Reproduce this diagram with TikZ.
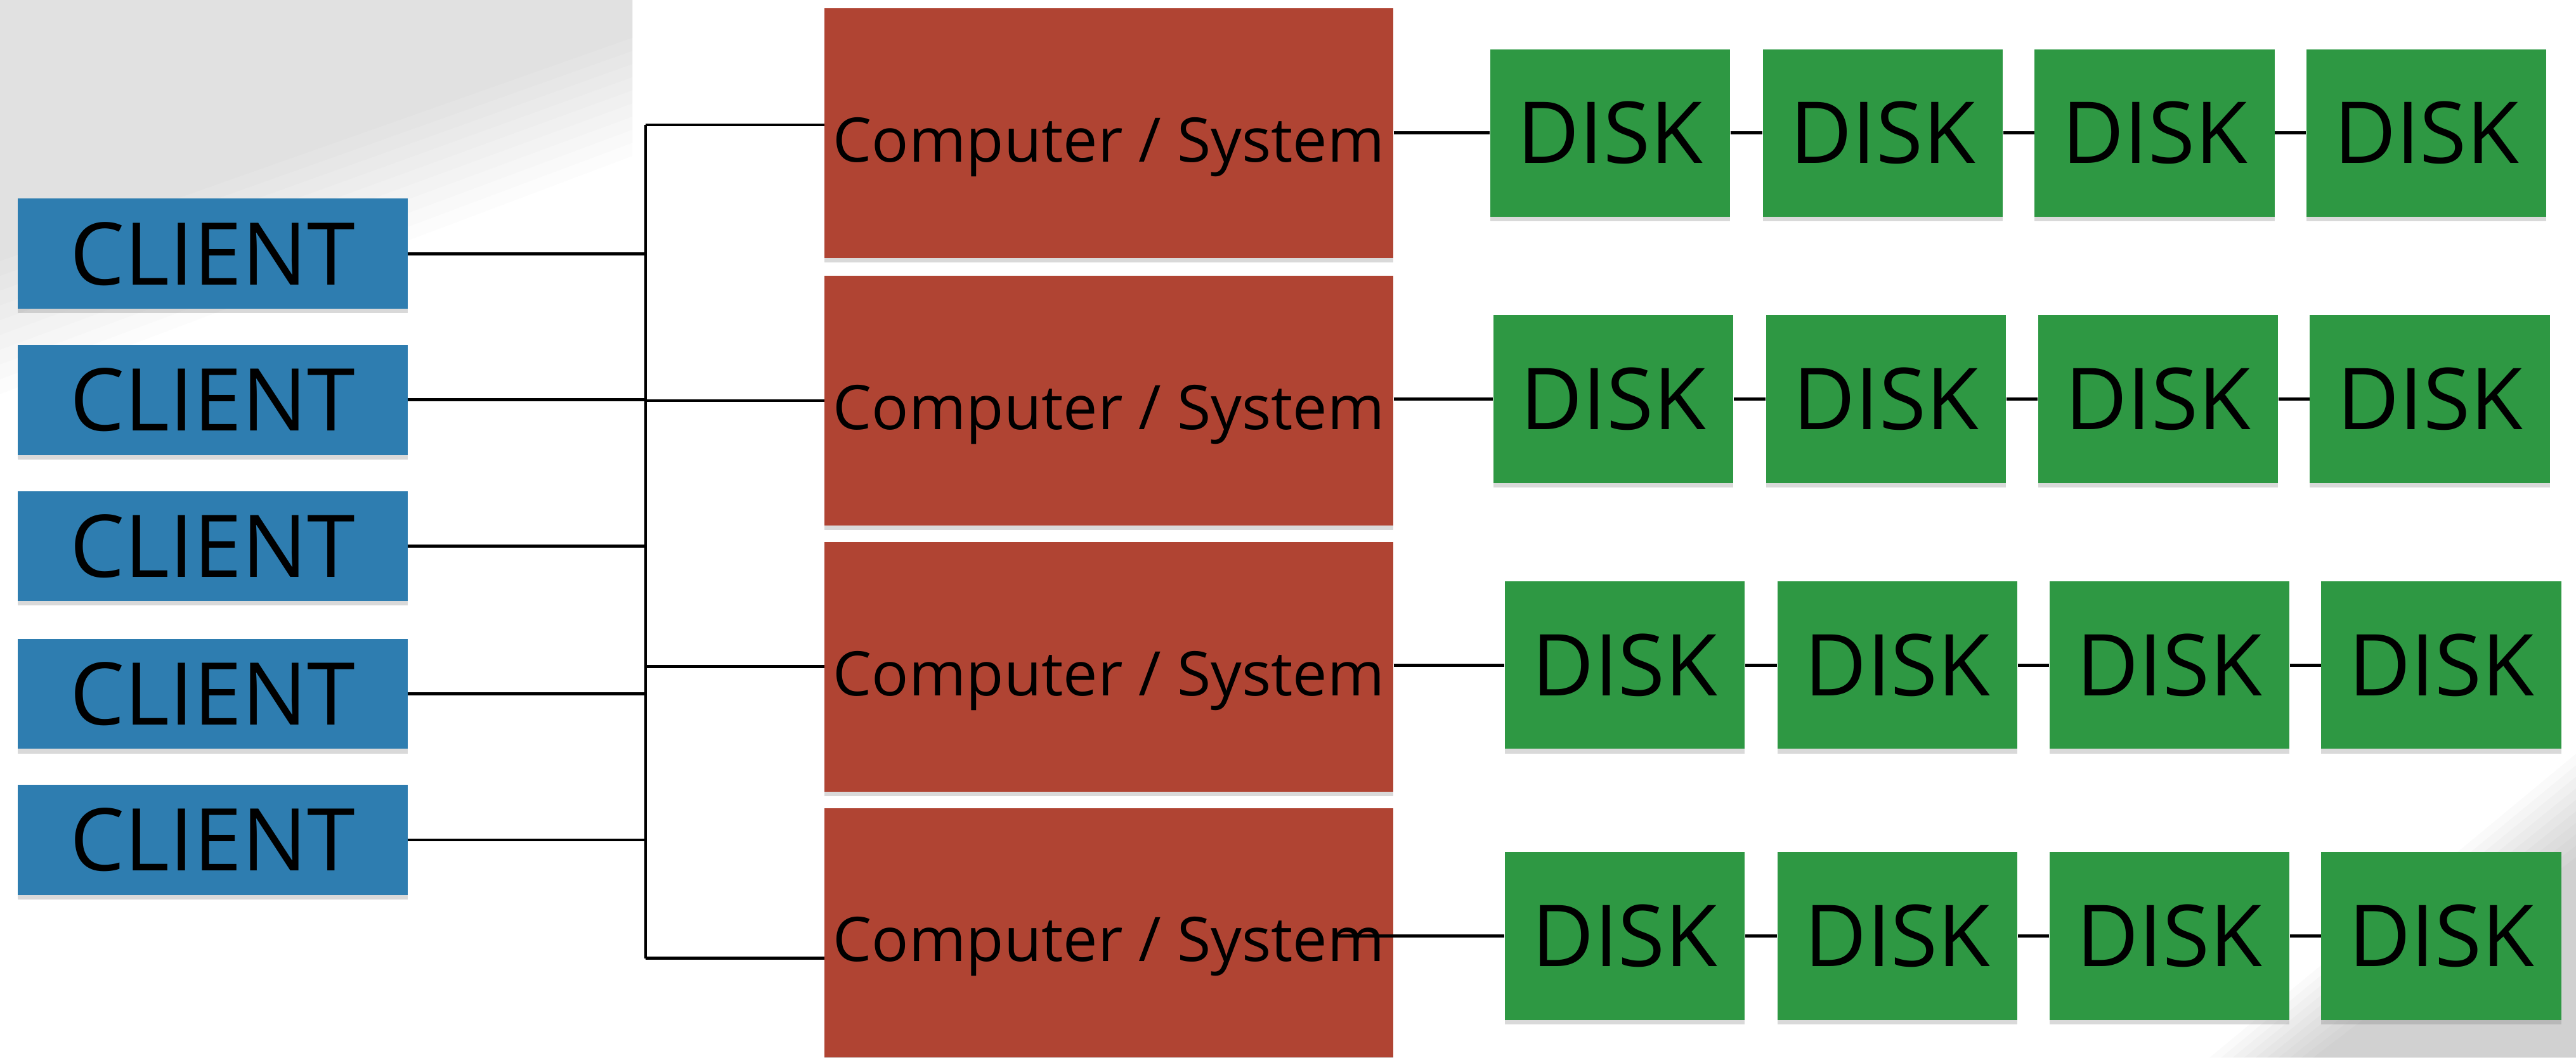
\documentclass[tikz,border=0pt]{standalone}
\usepackage{fontspec}
\setmainfont{Open Sans}
\usetikzlibrary{shadows}

\definecolor{clientblue}{RGB}{46,125,176}
\definecolor{systemred}{RGB}{176,68,51}
\definecolor{diskgreen}{RGB}{46,152,67}

\begin{document}
\begin{tikzpicture}[x=0.025cm,y=-0.025cm]

\tikzset{box/.style={rectangle,inner sep=0pt,
  drop shadow={shadow xshift=0pt,shadow yshift=-2pt,opacity=0.3}}}

\tikzset{client/.style={box,fill=clientblue,minimum width=5.925cm,
  minimum height=1.675cm,font=\fontsize{37.5}{40}\selectfont}}

\tikzset{system/.style={box,fill=systemred,minimum width=8.65cm,
  minimum height=3.8cm,font=\fontsize{26.6}{30}\selectfont,
  text height=25.5pt,text depth=0.5pt}}

\tikzset{disk/.style={box,fill=diskgreen,minimum width=3.65cm,
  minimum height=2.55cm,font=\fontsize{37}{40}\selectfont}}

\tikzset{link/.style={line width=1.3pt}}

\useasboundingbox (0,0) rectangle (1568,644);

%paper shadows
\foreach \k in {0,...,9}
  \fill[black,opacity=0.013] (0,0) -- (385,0) -- (385,{95-8*\k}) -- (0,{240-9*\k}) -- cycle;
\foreach \k in {0,...,9}
  \fill[black,opacity=0.018] ({1345+7*\k},644) -- (1568,{459+7*\k}) -- (1568,644) -- cycle;

%clients
\node[client] (cl1) at (129.5,154.5) {CLIENT};
\node[client] (cl2) at (129.5,243.5) {CLIENT};
\node[client] (cl3) at (129.5,332.5) {CLIENT};
\node[client] (cl4) at (129.5,422.5) {CLIENT};
\node[client] (cl5) at (129.5,511.5) {CLIENT};

%computers
\node[system] (cs1) at (675,81) {Computer / System};
\node[system] (cs2) at (675,244) {Computer / System};
\node[system] (cs3) at (675,406) {Computer / System};
\node[system] (cs4) at (675,568) {Computer / System};

%disks row 1
\node[disk] (d11) at (980,81) {DISK};
\node[disk] (d12) at (1146,81) {DISK};
\node[disk] (d13) at (1311.5,81) {DISK};
\node[disk] (d14) at (1477,81) {DISK};

%disks row 2
\node[disk] (d21) at (982,243) {DISK};
\node[disk] (d22) at (1148,243) {DISK};
\node[disk] (d23) at (1313.5,243) {DISK};
\node[disk] (d24) at (1479,243) {DISK};

%disks row 3
\node[disk] (d31) at (989,405) {DISK};
\node[disk] (d32) at (1155,405) {DISK};
\node[disk] (d33) at (1320.5,405) {DISK};
\node[disk] (d34) at (1486,405) {DISK};

%disks row 4
\node[disk] (d41) at (989,570) {DISK};
\node[disk] (d42) at (1155,570) {DISK};
\node[disk] (d43) at (1320.5,570) {DISK};
\node[disk] (d44) at (1486,570) {DISK};

%bus
\coordinate (bustop) at (393,76);
\coordinate (busbot) at (393,583.6);
\draw[link] (bustop) -- (busbot);

%clients to bus
\draw[link] (cl1.east) -- (cl1.east -| bustop);
\draw[link] (cl2.east) -- (cl2.east -| bustop);
\draw[link] (cl3.east) -- (cl3.east -| bustop);
\draw[link] (cl4.east) -- (cl4.east -| bustop);
\draw[link] (cl5.east) -- (cl5.east -| bustop);

%bus to computers
\draw[link] (bustop) -- (bustop -| cs1.west);
\draw[link] (cs2.west -| bustop) -- (cs2.west);
\draw[link] (cs3.west -| bustop) -- (cs3.west);
\draw[link] (busbot) -- (busbot -| cs4.west);

%computers to disks
\draw[link] (cs1.east |- d11.west) -- (d11.west);
\draw[link] (cs2.east |- d21.west) -- (d21.west);
\draw[link] (cs3.east |- d31.west) -- (d31.west);
\coordinate (cs4out) at (815,570);
\draw[link] (cs4out) -- (d41.west);

%disk chains
\draw[link] (d11) -- (d12) (d12) -- (d13) (d13) -- (d14);
\draw[link] (d21) -- (d22) (d22) -- (d23) (d23) -- (d24);
\draw[link] (d31) -- (d32) (d32) -- (d33) (d33) -- (d34);
\draw[link] (d41) -- (d42) (d42) -- (d43) (d43) -- (d44);

\end{tikzpicture}
\end{document}
